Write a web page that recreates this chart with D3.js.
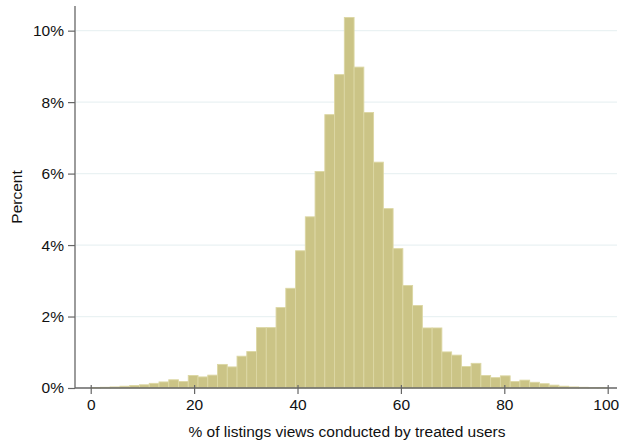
<!DOCTYPE html>
<html>
<head>
<meta charset="utf-8">
<script src="https://cdn.jsdelivr.net/npm/d3@7"></script>
<style>
  body { margin: 0; background: #fff; }
  svg { display: block; font-family: "Liberation Sans", Arial, sans-serif; }
</style>
</head>
<body>
<svg id="chart" width="619" height="442"></svg>
<script>
// histogram: 53 equal bins over 0..100, heights in percent
const binCount = 53;
const binStart = 0;
const binEnd = 100;
const percents = [
  0.01, 0.02, 0.03, 0.05, 0.07, 0.09, 0.13, 0.17, 0.23, 0.18,
  0.35, 0.31, 0.36, 0.66, 0.59, 0.89, 1.02, 1.69, 1.69, 2.25,
  2.79, 3.84, 4.79, 6.06, 7.65, 8.77, 10.37, 8.98, 7.71, 6.32,
  5.02, 3.90, 2.87, 2.31, 1.68, 1.68, 1.01, 0.92, 0.60, 0.69,
  0.35, 0.29, 0.34, 0.18, 0.22, 0.16, 0.12, 0.08, 0.05, 0.03,
  0.02, 0.01, 0.01
];
const xTicks = [0, 20, 40, 60, 80, 100];
const yTicks = [0, 2, 4, 6, 8, 10];
const xTitle = "% of listings views conducted by treated users";
const yTitle = "Percent";

const svg = d3.select("#chart");
const plotLeft = 75, plotRight = 617, plotTop = 6, plotBottom = 388;

const x = d3.scaleLinear().domain([-3.04, 101.8]).range([plotLeft, plotRight]);
const y = d3.scaleLinear().domain([0, 10.69]).range([plotBottom, plotTop]);

const binWidth = (binEnd - binStart) / binCount;
const bins = percents.map((p, i) => ({
  x0: binStart + i * binWidth,
  x1: binStart + (i + 1) * binWidth,
  value: p
}));

// gridlines
svg.append("g")
  .selectAll("line")
  .data(yTicks.filter(d => d > 0))
  .enter()
  .append("line")
  .attr("x1", plotLeft + 1)
  .attr("x2", plotRight)
  .attr("y1", d => y(d))
  .attr("y2", d => y(d))
  .attr("stroke", "#eaf2f3")
  .attr("stroke-width", 1.3);

// bars
svg.append("g")
  .selectAll("rect")
  .data(bins)
  .enter()
  .append("rect")
  .attr("x", d => x(d.x0))
  .attr("width", d => x(d.x1) - x(d.x0))
  .attr("y", d => y(d.value))
  .attr("height", d => y(0) - y(d.value))
  .attr("fill", "#cbc486")
  .attr("stroke", "#dcd7a4")
  .attr("stroke-width", 0.9);

// y axis
const yAxis = svg.append("g")
  .attr("transform", `translate(${plotLeft},0)`)
  .call(d3.axisLeft(y).tickValues(yTicks).tickFormat(d => d + "%").tickSize(7).tickPadding(4));
yAxis.select(".domain").attr("d", `M0,${plotTop}V${plotBottom}`).attr("stroke", "#666").attr("stroke-width", 1.3);
yAxis.selectAll(".tick line").attr("stroke", "#666").attr("stroke-width", 1.2);
yAxis.selectAll("text").style("font-size", "15.5px").attr("fill", "#111");

// x axis
const xAxis = svg.append("g")
  .attr("transform", `translate(0,${plotBottom})`)
  .call(d3.axisBottom(x).tickValues(xTicks).tickSize(6).tickPadding(5));
xAxis.select(".domain").attr("d", `M${plotLeft},0H${plotRight}`).attr("stroke", "#666").attr("stroke-width", 1.3);
xAxis.selectAll(".tick line").attr("y1", -3).attr("stroke", "#666").attr("stroke-width", 1.2);
xAxis.selectAll("text").style("font-size", "15.5px").attr("fill", "#111");
// keep the last label inside the picture
xAxis.selectAll(".tick text").filter(d => d === 100).attr("dx", "-2");

// titles
svg.append("text")
  .attr("x", (plotLeft + plotRight) / 2 + 1)
  .attr("y", 437)
  .attr("text-anchor", "middle")
  .style("font-size", "15.5px")
  .attr("fill", "#111")
  .text(xTitle);

svg.append("text")
  .attr("transform", `translate(22,${(plotTop + plotBottom) / 2}) rotate(-90)`)
  .attr("text-anchor", "middle")
  .style("font-size", "15.5px")
  .attr("fill", "#111")
  .text(yTitle);
</script>
</body>
</html>
